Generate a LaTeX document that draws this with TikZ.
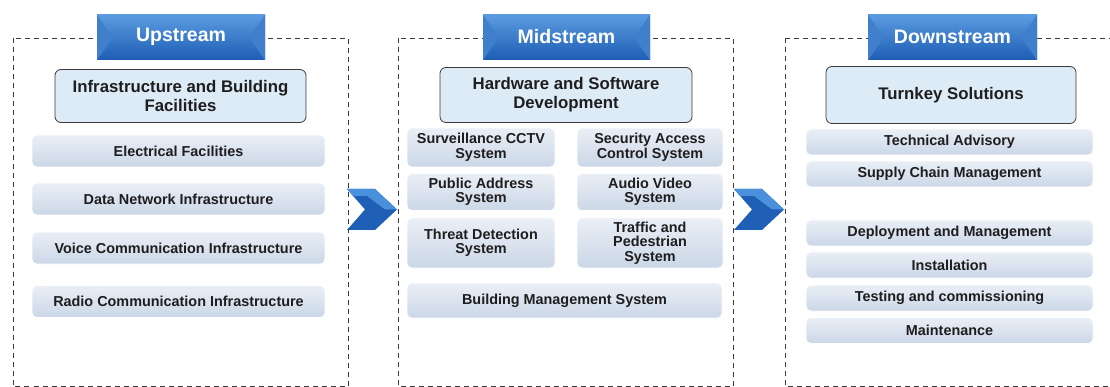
\documentclass[tikz,border=0pt]{standalone}
\usepackage{fontspec}
\setmainfont{Liberation Sans}
\usepackage{xcolor}
\usepackage{tikz}
\usetikzlibrary{calc}
\definecolor{frame}{HTML}{3A3A3A}
\definecolor{ink}{HTML}{1E1E1E}
\definecolor{hdtop}{HTML}{5A9BE0}
\definecolor{hdbot}{HTML}{1D5DB4}
\definecolor{hdside}{HTML}{3F7FCC}
\definecolor{boxfill}{HTML}{DDEBF7}
\definecolor{itemtop}{HTML}{EAEFF6}
\definecolor{itembot}{HTML}{CBD7E7}
\definecolor{chevA}{HTML}{4A90DC}
\definecolor{chevB}{HTML}{1F5FB5}
\tikzset{
  stage/.style={draw=frame, line width=0.8pt, dash pattern=on 5pt off 4pt},
  header/.style={top color=hdtop, bottom color=hdbot, draw=none},
  hlab/.style={text=white, font=\fontsize{19.5}{21}\selectfont\bfseries},
  mainbox/.style={draw=frame, fill=boxfill, line width=0.8pt, rounded corners=6pt,
    align=center, text=ink, font=\fontsize{16.8}{19}\selectfont\bfseries, inner sep=2pt},
  item/.style={top color=itemtop, bottom color=itembot, draw=white, line width=0.6pt,
    rounded corners=5pt, align=center, text=ink,
    font=\fontsize{14.4}{14.5}\selectfont\bfseries, inner sep=1pt},
}
\begin{document}
\begin{tikzpicture}[x=1pt, y=-1pt]
  \useasboundingbox (0,0) rectangle (1110,387);
  \fill[white] (0,0) rectangle (1110,387);

  % stage frames and headers
  \foreach \xl/\xr/\hl/\hr/\name/\txt in {13/348/97/265/up/Upstream,
      398/733/483/650/mid/Midstream, 785/1114/868/1037/down/Downstream}{
    \draw[stage] (\xl,38) rectangle (\xr,386.5);
    \fill[header] (\hl,15) rectangle (\hr,60);
    \fill[hdside] (\hl,15) -- (\hl+16,37.5) -- (\hl,60) -- cycle;
    \fill[hdside] (\hr,15) -- (\hr-16,37.5) -- (\hr,60) -- cycle;
    \node[hlab] (\name-head) at ({(\hl+\hr)/2},36.5) {\txt};
  }

  % upstream
  \node[mainbox, minimum width=251pt, minimum height=53pt] (infra) at (180.5,96)
    {Infrastructure and Building\\Facilities};
  \foreach \y/\n/\txt in {151/1/Electrical Facilities,199/2/Data Network Infrastructure,
      248/3/Voice Communication Infrastructure,301.5/4/Radio Communication Infrastructure}{
    \node[item, minimum width=293pt, minimum height=32pt] (up\n) at (178.5,\y) {\txt};
  }

  % midstream
  \node[mainbox, minimum width=252pt, minimum height=55pt] (hwsw) at (566,95)
    {Hardware and Software\\Development};
  \node[item, minimum width=148pt, minimum height=39pt] (cctv) at (481,147.5)
    {Surveillance CCTV\\System};
  \node[item, minimum width=146pt, minimum height=39pt] (access) at (650,147.5)
    {Security Access\\Control System};
  \node[item, minimum width=148pt, minimum height=37pt] (pa) at (481,192)
    {Public Address\\System};
  \node[item, minimum width=146pt, minimum height=37pt] (av) at (650,192)
    {Audio Video\\System};
  \node[item, minimum width=148pt, minimum height=50pt] (threat) at (481,243)
    {Threat Detection\\System};
  \node[item, minimum width=146pt, minimum height=50pt] (traffic) at (650,243)
    {Traffic and\\Pedestrian\\System};
  \node[item, minimum width=315pt, minimum height=35pt] (bms) at (564.5,300.5)
    {Building Management System};

  % downstream
  \node[mainbox, minimum width=250pt, minimum height=57pt] (turnkey) at (951,95)
    {Turnkey Solutions};
  \foreach \y/\n/\txt in {142/1/Technical Advisory,174/2/Supply Chain Management,
      233/3/Deployment and Management,265/4/Installation,
      298/5/Testing and commissioning,330.5/6/Maintenance}{
    \node[item, minimum width=287pt, minimum height=26pt] (down\n) at (949.5,\y) {\txt};
  }

  % chevrons between stages
  \foreach \x in {347,734}{
    \fill[chevB] (\x,189) -- (\x+28,189) -- (\x+50,209.5) -- (\x+28,230)
      -- (\x,230) -- (\x+18,209.5) -- cycle;
    \fill[chevA] (\x,189) -- (\x+28,189) -- (\x+50,209.5) -- (\x+38,209.5)
      -- (\x+20,196) -- (\x+6,196) -- cycle;
  }
\end{tikzpicture}
\end{document}
